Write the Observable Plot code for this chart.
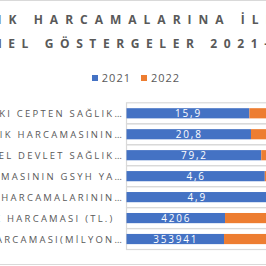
<!DOCTYPE html>
<html><head><meta charset="utf-8">
<script src="https://cdn.jsdelivr.net/npm/d3@7"></script>
<script src="https://cdn.jsdelivr.net/npm/@observablehq/plot@0.6"></script>
<style>
html,body{margin:0;padding:0;width:266px;height:266px;overflow:hidden;background:#fff;}
#chart{position:absolute;left:-124px;top:0;width:520px;height:265px;box-sizing:border-box;border:1px solid #d9d9d9;font-family:"Open Sans",sans-serif;}
#title{position:absolute;left:0;right:0;top:7px;text-align:center;font-weight:bold;font-size:12px;line-height:24px;color:#595959;letter-spacing:7px;white-space:nowrap;}
#title .l2{position:relative;left:10px;letter-spacing:6.6px;}
#legend{position:absolute;left:0;right:0;top:69px;display:flex;justify-content:center;align-items:center;font-size:11px;color:#595959;letter-spacing:1px;line-height:16px;}
#legend .sw{display:inline-block;width:6px;height:6px;margin-right:4px;}
#legend .it{display:flex;align-items:center;margin:0 5px;}
#plot{position:absolute;left:-1px;top:-1px;}
g[aria-label="y-axis tick label"] text{letter-spacing:2.25px;}
g[aria-label="text"] text{letter-spacing:1.8px;}
</style>
</head><body>
<div id="chart">
  <div id="title"></div>
  <div id="legend"></div>
  <div id="plot"></div>
</div>
<script>
const titleLines = ["SAĞLIK HARCAMALARINA İLİŞKİN", "TEMEL GÖSTERGELER 2021-2022"];
const categories = [
  "HANEHALKI CEPTEN SAĞLIK…",
  "ÖZEL SAĞLIK HARCAMASININ…",
  "GENEL DEVLET SAĞLIK…",
  "SAĞLIK HARCAMASININ GSYH YA…",
  "SAĞLIK HARCAMALARININ…",
  "KİŞİ BAŞI SAĞLIK HARCAMASI (TL.)\u00a0\u00a0",
  "TOPLAM SAĞLIK HARCAMASI(MİLYON…"
];
const years = ["2021", "2022"];
const values2021 = [15.9, 20.8, 79.2, 4.6, 4.9, 4206, 353941];
const values2022 = [16.0, 20.4, 65.7, 3.6, 3.7, 6320, 540900];
const colors = ["#4472C4", "#ED7D31"];

document.getElementById("title").innerHTML = titleLines.map((t, i) => `<div class="l${i + 1}">${t}</div>`).join("");
document.getElementById("legend").innerHTML = years.map((y, i) =>
  `<span class="it"><span class="sw" style="background:${colors[i]}"></span><span>${y}</span></span>`).join("");

const rows = [];
categories.forEach((c, i) => {
  rows.push({label: c, year: years[0], value: values2021[i]});
  rows.push({label: c, year: years[1], value: values2022[i]});
});
const fmt = v => String(v).replace(".", ",");

const chart = Plot.plot({
  width: 520,
  height: 266,
  marginLeft: 251,
  marginRight: 22,
  marginTop: 102,
  marginBottom: 15,
  style: {fontFamily: "Open Sans, sans-serif", fontSize: "9.5px", color: "#595959", background: "transparent", overflow: "visible"},
  x: {domain: [0, 1], axis: null},
  y: {domain: categories, padding: 0, axis: null},
  color: {domain: years, range: colors},
  marks: [
    Plot.barX(categories, {y: d => d, x1: 0, x2: 1, fill: "none", stroke: "#d9d9d9", strokeWidth: 1.2}),
    Plot.barX(rows, Plot.stackX({offset: "normalize", x: "value", y: "label", fill: "year", insetTop: 5.4, insetBottom: 5.4})),
    Plot.text(rows, Plot.stackX({offset: "normalize", x: "value", y: "label", z: "year", text: d => fmt(d.value), fill: "white", fontSize: 10})),
    Plot.axisY({tickSize: 0, tickPadding: 3, fontSize: 9.5, label: null})
  ]
});
document.getElementById("plot").appendChild(chart);
</script>
</body></html>
